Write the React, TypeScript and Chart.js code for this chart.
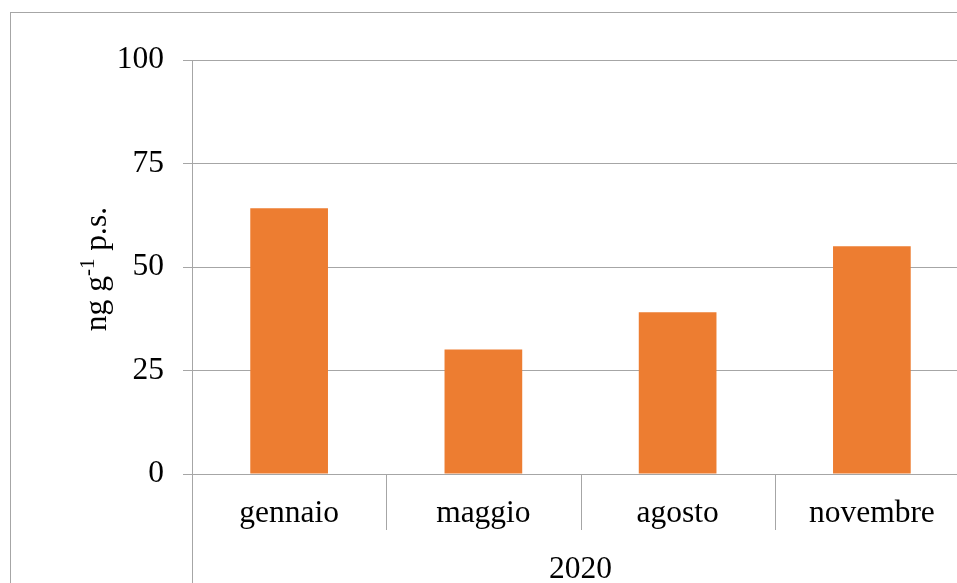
import React, { useEffect, useRef } from "react";
import { Chart, registerables } from "chart.js";

Chart.register(...registerables);

// Chart data
const months = ["gennaio", "maggio", "agosto", "novembre"];
const yearLabel = "2020";
const values = [64.2, 30.1, 39.1, 55.0];
const yMin = 0;
const yMax = 100;
const yStep = 25;
const yTitleMain = "ng g";
const yTitleSup = "-1";
const yTitleTail = " p.s.";

// Layout and style
const CANVAS_W = 980;
const CANVAS_H = 600;
const PLOT_LEFT = 181;
const PLOT_TOP = 47;
const PLOT_RIGHT = 958;
const PLOT_BOTTOM = 461;
const DIVIDER_LEN = 56;
const FONT = "'Liberation Serif', 'Times New Roman', serif";
const FONT_SIZE = 31.5;
const GRID = "#a6a6a6";
const BAR = "#ED7D31";

const groupAxisPlugin = {
  id: "groupAxis",
  afterDraw(chart: any) {
    const { ctx, chartArea, scales } = chart;
    const xs = scales.x;
    const n = months.length;
    const h = chart.height;
    ctx.save();
    ctx.strokeStyle = GRID;
    ctx.lineWidth = 1;

    // dividers between month groups
    for (let i = 1; i < n; i++) {
      const px = Math.round((xs.getPixelForTick(i - 1) + xs.getPixelForTick(i)) / 2) + 0.5;
      ctx.beginPath();
      ctx.moveTo(px, chartArea.bottom);
      ctx.lineTo(px, chartArea.bottom + DIVIDER_LEN);
      ctx.stroke();
    }
    // outer edges of the year group
    [chartArea.left, chartArea.right].forEach((edge: number) => {
      const px = Math.round(edge) + 0.5;
      ctx.beginPath();
      ctx.moveTo(px, chartArea.bottom);
      ctx.lineTo(px, h);
      ctx.stroke();
    });

    // year label under the months
    ctx.fillStyle = "#000";
    ctx.font = `${FONT_SIZE}px ${FONT}`;
    ctx.textAlign = "center";
    ctx.textBaseline = "alphabetic";
    ctx.fillText(yearLabel, (chartArea.left + chartArea.right) / 2, chartArea.bottom + 104);

    // rotated y-axis title with superscript
    const mainFont = `${FONT_SIZE}px ${FONT}`;
    const supFont = `${Math.round(FONT_SIZE * 0.68)}px ${FONT}`;
    ctx.font = mainFont;
    const w1 = ctx.measureText(yTitleMain).width;
    const w3 = ctx.measureText(yTitleTail).width;
    ctx.font = supFont;
    const w2 = ctx.measureText(yTitleSup).width;
    const total = w1 + w2 + w3;
    ctx.translate(95, (chartArea.top + chartArea.bottom) / 2 + 2);
    ctx.rotate(-Math.PI / 2);
    ctx.textAlign = "left";
    let cx = -total / 2;
    ctx.font = mainFont;
    ctx.fillText(yTitleMain, cx, 0);
    cx += w1;
    ctx.font = supFont;
    ctx.fillText(yTitleSup, cx, -12);
    cx += w2;
    ctx.font = mainFont;
    ctx.fillText(yTitleTail, cx, 0);
    ctx.restore();
  },
};

export default function App() {
  const canvasRef = useRef<HTMLCanvasElement | null>(null);

  useEffect(() => {
    const canvas = canvasRef.current;
    if (!canvas) return;
    const chart = new Chart(canvas, {
      type: "bar",
      data: {
        labels: months,
        datasets: [
          {
            data: values,
            backgroundColor: BAR,
            borderWidth: 0,
            barPercentage: 0.4,
            categoryPercentage: 1.0,
          },
        ],
      },
      options: {
        responsive: false,
        animation: false,
        devicePixelRatio: 1,
        layout: {
          padding: { left: 0, top: PLOT_TOP, right: CANVAS_W - PLOT_RIGHT, bottom: 0 },
        },
        plugins: {
          legend: { display: false },
          tooltip: { enabled: false },
        },
        scales: {
          x: {
            grid: { display: false, drawTicks: false },
            border: { display: true, color: GRID, width: 1 },
            ticks: {
              color: "#000",
              font: { family: FONT, size: FONT_SIZE },
              padding: 21,
              maxRotation: 0,
              autoSkip: false,
            },
            afterFit: (s: any) => {
              s.height = CANVAS_H - PLOT_BOTTOM;
            },
          },
          y: {
            min: yMin,
            max: yMax,
            ticks: {
              stepSize: yStep,
              color: "#000",
              font: { family: FONT, size: FONT_SIZE },
              padding: 19,
            },
            grid: { color: GRID, lineWidth: 1, drawTicks: true, tickLength: 9 },
            border: { display: true, color: GRID, width: 1 },
            afterFit: (s: any) => {
              s.width = PLOT_LEFT;
            },
          },
        },
      },
      plugins: [groupAxisPlugin],
    });
    return () => chart.destroy();
  }, []);

  return (
    <div
      style={{
        position: "fixed",
        left: 0,
        top: 0,
        width: 957,
        height: 583,
        overflow: "hidden",
        background: "#fff",
      }}
    >
      <div
        style={{
          position: "absolute",
          left: 10,
          top: 12,
          width: CANVAS_W,
          height: CANVAS_H,
          border: `1px solid ${GRID}`,
        }}
      >
        <canvas
          ref={canvasRef}
          width={CANVAS_W}
          height={CANVAS_H}
          style={{ display: "block", width: CANVAS_W, height: CANVAS_H }}
        />
      </div>
    </div>
  );
}
